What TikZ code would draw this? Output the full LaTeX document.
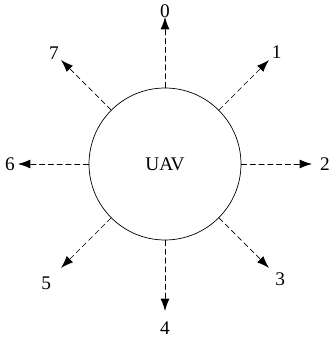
\documentclass[tikz,border=0pt]{standalone}
\usepackage{fontspec}
\setmainfont{Liberation Serif}
\usetikzlibrary{arrows.meta}

\begin{document}
\begin{tikzpicture}[x=0.02cm,y=0.02cm,line cap=round,line join=round,font=\fontsize{11}{13}\selectfont,
  dirarrow/.style={densely dashed,-{Latex[length=7pt,width=5pt]}}]
  \useasboundingbox (-165,-176) rectangle (165,164);
  \node[draw,circle,minimum size=3.04cm,inner sep=0pt] (uav) at (0,0) {UAV};
  \foreach \n/\rad in {0/153,1/158,2/160,3/163,4/164,5/168,6/155,7/157}{
    \pgfmathtruncatemacro\ang{mod(450-45*\n,360)}
    \coordinate (t\n) at (\ang:147);
    \node[inner sep=1pt] (l\n) at (\ang:\rad) {\n};
    \draw[dirarrow] (uav.\ang) -- (t\n);
  }
\end{tikzpicture}
\end{document}
